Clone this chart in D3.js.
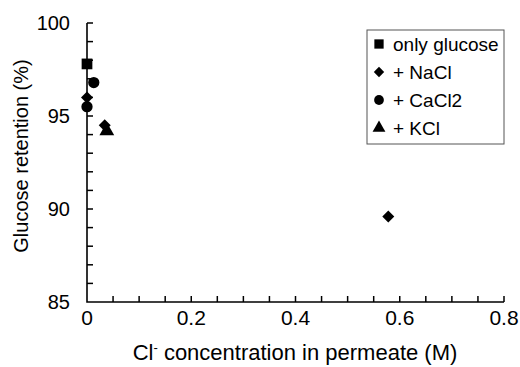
<!DOCTYPE html>
<html>
<head>
<meta charset="utf-8">
<script src="https://cdn.jsdelivr.net/npm/d3@7"></script>
<style>
  body { margin: 0; background: #fff; }
  svg text { font-family: "Liberation Sans", Arial, sans-serif; fill: #000; }
</style>
</head>
<body>
<svg id="chart" width="520" height="367"></svg>
<script>
// series: [Cl- concentration (M), glucose retention (%)]
var onlyGlucose = [[0, 97.8]];
var nacl = [[0, 96.0], [0.034, 94.5], [0.578, 89.6]];
var cacl2 = [[0, 95.5], [0.013, 96.8]];
var kcl = [[0.038, 94.2]];

var xTicks = [0, 0.2, 0.4, 0.6, 0.8];
var yTicks = [85, 90, 95, 100];

var series = [
  { name: "only glucose", data: onlyGlucose, symbol: d3.symbolSquare, size: 115, rot: 0 },
  { name: "+ NaCl", data: nacl, symbol: d3.symbolSquare, size: 72, rot: 45 },
  { name: "+ CaCl2", data: cacl2, symbol: d3.symbolCircle, size: 100, rot: 0 },
  { name: "+ KCl", data: kcl, symbol: d3.symbolTriangle, size: 95, rot: 0 }
];

var svg = d3.select("#chart"),
  margin = { top: 23, right: 16, bottom: 65, left: 87 },
  width = +svg.attr("width") - margin.left - margin.right,
  height = +svg.attr("height") - margin.top - margin.bottom;

var x = d3.scaleLinear().domain([0, 0.8]).range([0, width]),
  y = d3.scaleLinear().domain([85, 100]).range([height, 0]);

var g = svg.append("g")
  .attr("transform", "translate(" + margin.left + "," + margin.top + ")");

// inward minor ticks
g.append("g")
  .selectAll("line")
  .data(d3.range(1, 17).map(function(i) { return i * 0.05; }))
  .enter().append("line")
  .attr("x1", function(d) { return x(d); })
  .attr("x2", function(d) { return x(d); })
  .attr("y1", height)
  .attr("y2", height - 6)
  .attr("stroke", "#000")
  .attr("stroke-width", 1.5);

g.append("g")
  .selectAll("line")
  .data(d3.range(86, 101))
  .enter().append("line")
  .attr("x1", 0)
  .attr("x2", 6)
  .attr("y1", function(d) { return y(d); })
  .attr("y2", function(d) { return y(d); })
  .attr("stroke", "#000")
  .attr("stroke-width", 1.5);

// axis lines
g.append("path")
  .attr("d", "M0," + y(100) + "V" + y(85) + "H" + x(0.8))
  .attr("fill", "none")
  .attr("stroke", "#000")
  .attr("stroke-width", 1.6);

g.append("g")
  .attr("transform", "translate(0," + height + ")")
  .selectAll("text")
  .data(xTicks)
  .enter().append("text")
  .attr("x", function(d) { return x(d); })
  .attr("y", 23)
  .attr("text-anchor", "middle")
  .style("font-size", "21px")
  .text(function(d) { return d === 0 ? "0" : d3.format(".1f")(d); });

g.append("g")
  .selectAll("text")
  .data(yTicks)
  .enter().append("text")
  .attr("x", -17)
  .attr("y", function(d) { return y(d); })
  .attr("dy", "0.36em")
  .attr("text-anchor", "end")
  .style("font-size", "20px")
  .text(function(d) { return d; });

// points
series.forEach(function(s) {
  g.selectAll(null)
    .data(s.data)
    .enter().append("path")
    .attr("transform", function(d) {
      return "translate(" + x(d[0]) + "," + y(d[1]) + ") rotate(" + s.rot + ")";
    })
    .attr("d", d3.symbol().type(s.symbol).size(s.size))
    .attr("fill", "#000");
});

// axis titles
svg.append("text")
  .attr("transform", "translate(21,156) rotate(-90)")
  .attr("text-anchor", "middle")
  .attr("dy", "0.36em")
  .style("font-size", "20px")
  .text("Glucose retention (%)");

var xl = svg.append("text")
  .attr("x", 295)
  .attr("y", 360)
  .attr("text-anchor", "middle")
  .style("font-size", "22px");
xl.append("tspan").text("Cl");
xl.append("tspan").attr("dy", -8).style("font-size", "13px").text("-");
xl.append("tspan").attr("dy", 8).text(" concentration in permeate (M)");

// legend
var legend = svg.append("g").attr("transform", "translate(367,30)");
legend.append("rect")
  .attr("width", 137).attr("height", 114)
  .attr("fill", "#fff").attr("stroke", "#555").attr("stroke-width", 1);
series.forEach(function(s, i) {
  var row = legend.append("g").attr("transform", "translate(12," + (14 + i * 28) + ")");
  row.append("path")
    .attr("transform", "rotate(" + s.rot + ")")
    .attr("d", d3.symbol().type(s.symbol).size(s.size * 0.75))
    .attr("fill", "#000");
  row.append("text")
    .attr("x", 14)
    .attr("dy", "0.36em")
    .style("font-size", "19px")
    .text(s.name);
});
</script>
</body>
</html>
